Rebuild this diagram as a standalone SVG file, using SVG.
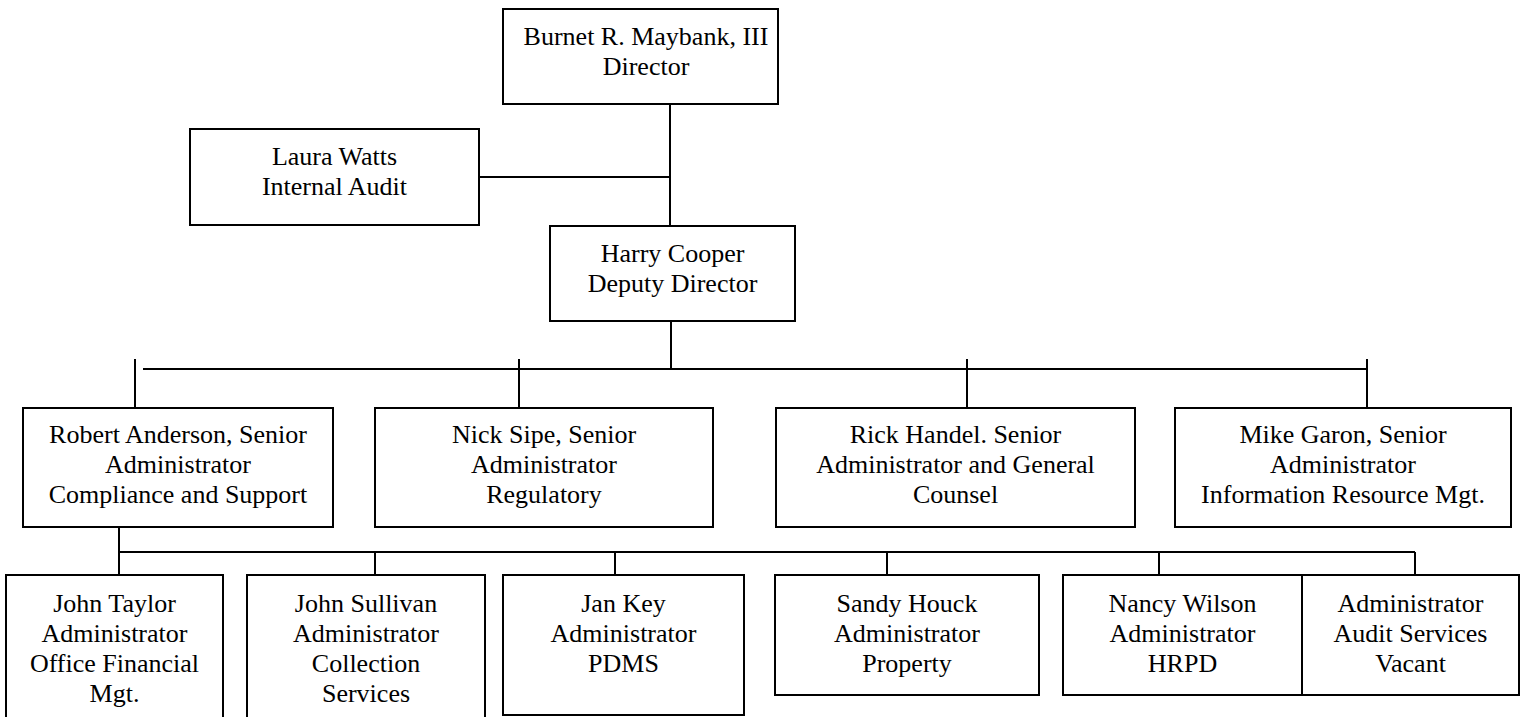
<svg xmlns="http://www.w3.org/2000/svg" width="1525" height="717" viewBox="0 0 1525 717">
<style>
.box{fill:#fff;stroke:#000;stroke-width:2}
.ln{stroke:#000;stroke-width:2;fill:none}
text{font-family:"Liberation Serif","Times New Roman",serif;font-size:26px;fill:#000;text-anchor:middle}
</style>
<rect width="1525" height="717" fill="#fff"/>
<g id="connectors">
<path class="ln" d="M670 104V226M479 177H670M671 321V369M143 369H1367M135 359V408M519 359V408M967 359V408M1367 359V408M119 527V575M119 552H1415M375 552V575M615 552V575M887 552V575M1159 552V575M1415 552V575"/>
</g>
<g id="director"><rect class="box" x="503" y="9" width="275" height="95"/><text x="646" y="45">Burnet R. Maybank, III</text><text x="646" y="75">Director</text></g>
<g id="audit"><rect class="box" x="190" y="129" width="289" height="96"/><text x="334.5" y="165">Laura Watts</text><text x="334.5" y="195">Internal Audit</text></g>
<g id="deputy"><rect class="box" x="550" y="226" width="245" height="95"/><text x="672.5" y="262">Harry Cooper</text><text x="672.5" y="292">Deputy Director</text></g>
<g id="anderson"><rect class="box" x="23" y="408" width="310" height="119"/><text x="178" y="443">Robert Anderson, Senior</text><text x="178" y="473">Administrator</text><text x="178" y="503">Compliance and Support</text></g>
<g id="sipe"><rect class="box" x="375" y="408" width="338" height="119"/><text x="544" y="443">Nick Sipe, Senior</text><text x="544" y="473">Administrator</text><text x="544" y="503">Regulatory</text></g>
<g id="handel"><rect class="box" x="776" y="408" width="359" height="119"/><text x="955.5" y="443">Rick Handel. Senior</text><text x="955.5" y="473">Administrator and General</text><text x="955.5" y="503">Counsel</text></g>
<g id="garon"><rect class="box" x="1175" y="408" width="336" height="119"/><text x="1343" y="443">Mike Garon, Senior</text><text x="1343" y="473">Administrator</text><text x="1343" y="503">Information Resource Mgt.</text></g>
<g id="taylor"><rect class="box" x="6" y="575" width="217" height="160"/><text x="114.5" y="612">John Taylor</text><text x="114.5" y="642">Administrator</text><text x="114.5" y="672">Office Financial</text><text x="114.5" y="702">Mgt.</text></g>
<g id="sullivan"><rect class="box" x="247" y="575" width="238" height="160"/><text x="366" y="612">John Sullivan</text><text x="366" y="642">Administrator</text><text x="366" y="672">Collection</text><text x="366" y="702">Services</text></g>
<g id="key"><rect class="box" x="503" y="575" width="241" height="140"/><text x="623.5" y="612">Jan Key</text><text x="623.5" y="642">Administrator</text><text x="623.5" y="672">PDMS</text></g>
<g id="houck"><rect class="box" x="775" y="575" width="264" height="120"/><text x="907" y="612">Sandy Houck</text><text x="907" y="642">Administrator</text><text x="907" y="672">Property</text></g>
<g id="wilson"><rect class="box" x="1063" y="575" width="239" height="120"/><text x="1182.5" y="612">Nancy Wilson</text><text x="1182.5" y="642">Administrator</text><text x="1182.5" y="672">HRPD</text></g>
<g id="vacant"><rect class="box" x="1302" y="575" width="217" height="120"/><text x="1410.5" y="612">Administrator</text><text x="1410.5" y="642">Audit Services</text><text x="1410.5" y="672">Vacant</text></g>
</svg>
